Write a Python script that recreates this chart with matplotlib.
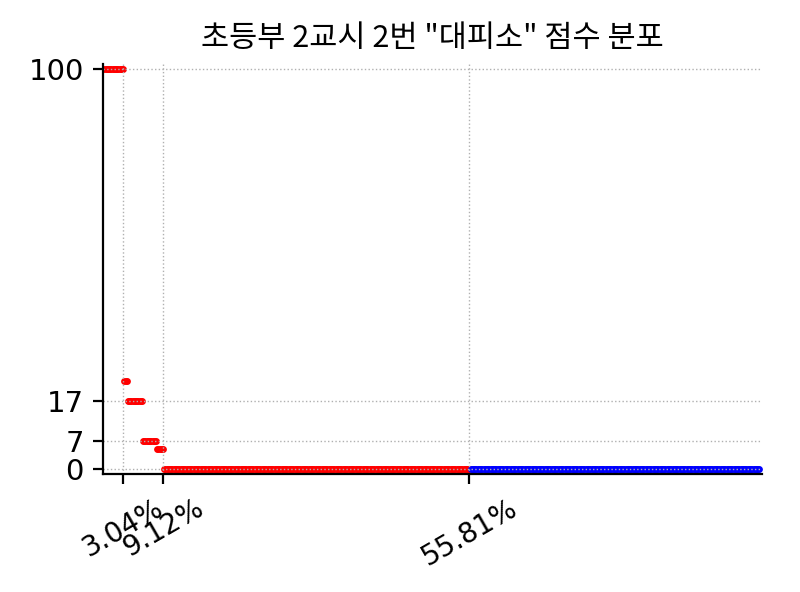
import numpy as np
import matplotlib
matplotlib.use("Agg")
import matplotlib.pyplot as plt

# -----------------------------
# Data: sorted scores, run-length by group
# -----------------------------
title = '초등부 2교시 2번 "대피소" 점수 분포'
red_scores = [100, 22, 17, 7, 5, 0]
red_counts = [17, 3, 13, 12, 6, 261]
blue_scores = [0]
blue_counts = [247]
y_ticks = [0, 7, 17, 100]

red_y = np.repeat(red_scores, red_counts)
blue_y = np.repeat(blue_scores, blue_counts)
n_total = len(red_y) + len(blue_y)
x_all = np.arange(1, n_total + 1) / n_total * 100
red_x = x_all[:len(red_y)]
blue_x = x_all[len(red_y):]

# tick positions: end of full score, end of nonzero, end of red
cum = np.cumsum(red_counts)
x_ticks = [cum[0] / n_total * 100, cum[-2] / n_total * 100, cum[-1] / n_total * 100]
x_labels = [f"{v:.2f}%" for v in x_ticks]

# -----------------------------
# Plot
# -----------------------------
dpi = 200
fig = plt.figure(figsize=(800 / dpi, 592 / dpi), dpi=dpi)
ax = fig.add_axes([0.129, 0.199, 0.8235, 0.693])

ax.scatter(red_x, red_y, s=6, color="red", marker="o", linewidths=0)
ax.scatter(blue_x, blue_y, s=6, color="blue", marker="o", linewidths=0)

ax.set_xlim(0, 100.4)
ax.set_ylim(-1.25, 101.25)
ax.set_yticks(y_ticks)
ax.set_xticks(x_ticks)
ax.set_xticklabels(x_labels, rotation=30)
ax.tick_params(axis="y", labelsize=10.5)
ax.grid(True, linestyle=":", linewidth=0.5, color="#b0b0b0")

ax.spines["top"].set_visible(False)
ax.spines["right"].set_visible(False)
ax.set_title(title, fontsize=11, family=["Noto Sans CJK KR", "DejaVu Sans"])

fig.savefig("out.png", dpi=dpi)
